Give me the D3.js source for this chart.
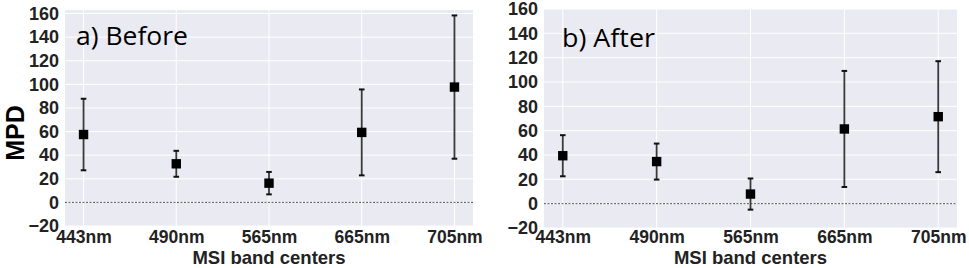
<!DOCTYPE html>
<html>
<head>
<meta charset="utf-8">
<script src="https://cdn.jsdelivr.net/npm/d3@7"></script>
<style>
  body { margin: 0; background: #fff; }
</style>
</head>
<body>
<script>
// data
var bands = ["443nm", "490nm", "565nm", "665nm", "705nm"];
var beforeMean = [57.5, 32.7, 16.3, 59.3, 97.7];
var beforeErr = [30.3, 11, 9.5, 36.4, 60.7];
var afterMean = [39.4, 34.6, 7.9, 61.4, 71.5];
var afterErr = [16.9, 14.8, 12.8, 47.7, 45.6];
var yTicks = [-20, 0, 20, 40, 60, 80, 100, 120, 140, 160];

var svg = d3.select("body")
    .append("svg")
    .attr("width", 969)
    .attr("height", 268)
    .style("display", "block");

var boldFont = "Liberation Sans, Arial, sans-serif";

function drawPanel(box, title, means, errs) {
    var x = d3.scaleLinear().domain([-0.2, bands.length - 0.8]).range([box.x0, box.x1]);
    var y = d3.scaleLinear().domain([-20, box.yMax]).range([box.y1, box.y0]);
    var g = svg.append("g");

    // background
    g.append("rect")
        .attr("x", box.x0)
        .attr("y", box.y0)
        .attr("width", box.x1 - box.x0)
        .attr("height", box.y1 - box.y0)
        .attr("fill", "#eaeaf2");

    // grid
    g.selectAll(".hg").data(yTicks).enter().append("line")
        .attr("x1", box.x0).attr("x2", box.x1)
        .attr("y1", function (d) { return y(d); })
        .attr("y2", function (d) { return y(d); })
        .attr("stroke", "#fff").attr("stroke-width", 1);
    g.selectAll(".vg").data(bands).enter().append("line")
        .attr("x1", function (d, i) { return x(i); })
        .attr("x2", function (d, i) { return x(i); })
        .attr("y1", box.y0).attr("y2", box.y1)
        .attr("stroke", "#fff").attr("stroke-width", 1);

    // zero line
    g.append("line")
        .attr("x1", box.x0).attr("x2", box.x1)
        .attr("y1", y(0)).attr("y2", y(0))
        .attr("stroke", "#555").attr("stroke-width", 1)
        .attr("stroke-dasharray", "2,1.5");

    // y axis
    var yAxis = g.append("g")
        .attr("transform", "translate(" + (box.x0 - 6) + ",0)")
        .call(d3.axisLeft(y).tickValues(yTicks).tickSize(0).tickPadding(0)
            .tickFormat(function (d) { return d < 0 ? "\u2212" + (-d) : d; }));
    yAxis.select(".domain").remove();
    yAxis.selectAll("text")
        .attr("font-family", boldFont)
        .attr("font-weight", "bold")
        .attr("font-size", 18)
        .attr("fill", "#222");

    // x axis (labels sit at the same height in both panels)
    var xAxis = g.append("g")
        .attr("transform", "translate(0,226)")
        .call(d3.axisBottom(x).tickValues(d3.range(bands.length)).tickSize(0).tickPadding(5)
            .tickFormat(function (d) { return bands[d]; }));
    xAxis.select(".domain").remove();
    xAxis.selectAll("text")
        .attr("font-family", boldFont)
        .attr("font-weight", "bold")
        .attr("font-size", 17.5)
        .attr("fill", "#222");

    g.append("text")
        .attr("x", (box.x0 + box.x1) / 2)
        .attr("y", 264)
        .attr("text-anchor", "middle")
        .attr("font-family", boldFont)
        .attr("font-weight", "bold")
        .attr("font-size", 18.5)
        .attr("fill", "#222")
        .text("MSI band centers");

    // error bars
    var pts = means.map(function (m, i) { return {i: i, m: m, e: errs[i]}; });
    var eb = g.selectAll(".eb").data(pts).enter().append("g");
    eb.append("line")
        .attr("x1", function (d) { return x(d.i); })
        .attr("x2", function (d) { return x(d.i); })
        .attr("y1", function (d) { return y(d.m - d.e); })
        .attr("y2", function (d) { return y(d.m + d.e); })
        .attr("stroke", "#3a3a3a").attr("stroke-width", 1.8);
    [-1, 1].forEach(function (s) {
        eb.append("line")
            .attr("x1", function (d) { return x(d.i) - 2.8; })
            .attr("x2", function (d) { return x(d.i) + 2.8; })
            .attr("y1", function (d) { return y(d.m + s * d.e); })
            .attr("y2", function (d) { return y(d.m + s * d.e); })
            .attr("stroke", "#111").attr("stroke-width", 2);
    });
    eb.append("rect")
        .attr("x", function (d) { return x(d.i) - 4.7; })
        .attr("y", function (d) { return y(d.m) - 4.7; })
        .attr("width", 9.4)
        .attr("height", 9.4)
        .attr("fill", "#000");

    // panel title
    g.append("text")
        .attr("x", box.x0 + box.tx)
        .attr("y", box.ty)
        .attr("font-family", "Open Sans, Noto Sans, sans-serif")
        .attr("font-size", 25)
        .attr("textLength", box.tw)
        .attr("lengthAdjust", "spacingAndGlyphs")
        .attr("fill", "#000")
        .text(title);
}

drawPanel({x0: 65, x1: 473, y0: 10, y1: 226, yMax: 163, tx: 11, ty: 45, tw: 112}, "a) Before", beforeMean, beforeErr);
drawPanel({x0: 544, x1: 957, y0: 9, y1: 228, yMax: 160, tx: 18, ty: 47, tw: 93}, "b) After", afterMean, afterErr);

// y axis title
svg.append("text")
    .attr("transform", "translate(24,133) rotate(-90)")
    .attr("text-anchor", "middle")
    .attr("font-family", boldFont)
    .attr("font-weight", "bold")
    .attr("font-size", 25)
    .attr("fill", "#000")
    .text("MPD");
</script>
</body>
</html>
